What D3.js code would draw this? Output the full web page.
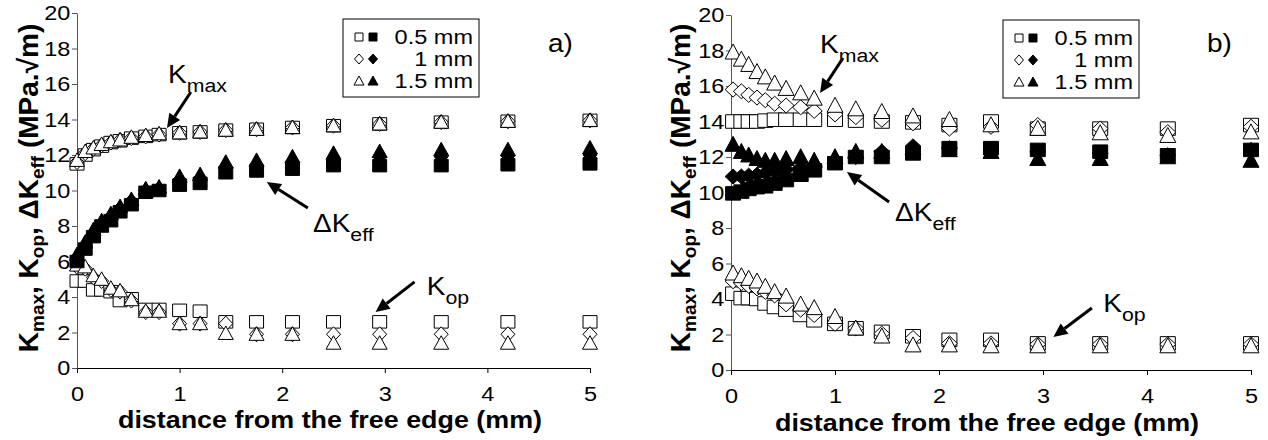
<!DOCTYPE html>
<html>
<head>
<meta charset="utf-8">
<script src="https://cdn.jsdelivr.net/npm/d3@7"></script>
<style>
  body { margin: 0; background: #fff; }
  svg { font-family: "Liberation Sans", Arial, sans-serif; }
</style>
</head>
<body>
<svg width="1268" height="440"></svg>
<script>
// distance from the free edge (mm)
const xsA = [0, 0.08, 0.16, 0.24, 0.33, 0.42, 0.53, 0.67, 0.8, 1.0, 1.2, 1.45, 1.75, 2.1, 2.5, 2.95, 3.55, 4.2, 5.0];
const xsB = [0.02, 0.1, 0.17, 0.25, 0.33, 0.42, 0.53, 0.67, 0.8, 1.0, 1.2, 1.45, 1.75, 2.1, 2.5, 2.95, 3.55, 4.2, 5.0];

const ticksX = [0, 1, 2, 3, 4, 5];
const ticksY = [0, 2, 4, 6, 8, 10, 12, 14, 16, 18, 20];
const legendLabels = ["0.5 mm", "1 mm", "1.5 mm"];

// panel a)
const kmaxA05 = [11.5, 12.0, 12.3, 12.5, 12.7, 12.8, 12.95, 13.05, 13.15, 13.25, 13.3, 13.4, 13.45, 13.55, 13.65, 13.75, 13.85, 13.9, 13.95];
const kmaxA1  = [11.6, 12.1, 12.35, 12.55, 12.7, 12.85, 12.95, 13.05, 13.15, 13.25, 13.3, 13.4, 13.45, 13.55, 13.65, 13.75, 13.85, 13.9, 13.95];
const kmaxA15 = [11.7, 12.2, 12.4, 12.6, 12.75, 12.85, 13.0, 13.1, 13.2, 13.25, 13.3, 13.4, 13.45, 13.55, 13.65, 13.75, 13.85, 13.9, 13.95];
const dkA05 = [6.0, 6.7, 7.4, 8.0, 8.3, 8.8, 9.2, 9.9, 10.0, 10.3, 10.4, 11.0, 11.1, 11.2, 11.4, 11.4, 11.4, 11.45, 11.5];
const dkA1  = [6.2, 6.9, 7.6, 8.1, 8.5, 9.0, 9.4, 10.0, 10.1, 10.6, 10.7, 11.3, 11.4, 11.6, 11.8, 11.9, 11.9, 11.95, 12.0];
const dkA15 = [6.4, 7.1, 7.8, 8.3, 8.7, 9.1, 9.5, 10.1, 10.2, 10.8, 10.9, 11.6, 11.7, 11.9, 12.1, 12.2, 12.3, 12.3, 12.4];
const kopA05 = [4.9, 4.9, 4.4, 4.4, 4.3, 3.8, 3.9, 3.3, 3.3, 3.25, 3.2, 2.6, 2.6, 2.6, 2.6, 2.6, 2.6, 2.6, 2.6];
const kopA1  = [5.7, 5.6, 5.1, 4.9, 4.4, 4.3, 3.8, 3.15, 3.15, 2.5, 2.5, 2.5, 1.9, 1.9, 1.9, 1.9, 1.9, 1.9, 1.9];
const kopA15 = [5.8, 5.7, 5.2, 5.0, 4.5, 4.35, 3.85, 3.2, 3.2, 2.5, 2.5, 1.95, 1.9, 1.9, 1.4, 1.4, 1.4, 1.4, 1.4];

// panel b)
const kmaxB05 = [14.0, 14.0, 14.0, 14.0, 14.05, 14.1, 14.1, 14.1, 14.1, 14.1, 14.05, 14.0, 13.95, 13.8, 14.0, 13.6, 13.6, 13.6, 13.8];
const kmaxB1  = [15.8, 15.7, 15.5, 15.35, 15.2, 15.0, 14.9, 14.8, 14.6, 14.4, 14.25, 14.1, 13.9, 13.6, 13.7, 13.8, 13.6, 13.4, 13.7];
const kmaxB15 = [17.9, 17.5, 17.2, 16.8, 16.5, 16.15, 15.85, 15.6, 15.3, 14.9, 14.7, 14.55, 14.3, 14.1, 13.8, 13.6, 13.35, 13.2, 13.4];
const dkB05 = [9.95, 10.05, 10.2, 10.3, 10.35, 10.5, 10.7, 11.0, 11.25, 11.65, 12.0, 12.0, 12.2, 12.5, 12.5, 12.4, 12.3, 12.1, 12.4];
const dkB1  = [10.9, 10.9, 10.95, 11.0, 11.1, 11.2, 11.3, 11.4, 11.5, 11.8, 12.0, 12.3, 12.6, 12.5, 12.4, 12.3, 12.2, 12.1, 12.4];
const dkB15 = [12.7, 12.3, 12.1, 11.9, 11.8, 11.8, 11.9, 12.0, 11.8, 12.0, 12.3, 12.3, 12.5, 12.4, 12.3, 11.9, 11.9, 12.0, 11.8];
const kopB05 = [4.3, 4.05, 4.05, 4.0, 3.75, 3.55, 3.4, 3.1, 2.8, 2.6, 2.35, 2.15, 1.9, 1.7, 1.7, 1.5, 1.5, 1.5, 1.5];
const kopB1  = [5.0, 4.9, 4.75, 4.6, 4.4, 4.2, 3.7, 3.4, 3.1, 2.6, 2.35, 2.05, 1.8, 1.5, 1.5, 1.45, 1.45, 1.45, 1.45];
const kopB15 = [5.45, 5.3, 5.15, 5.0, 4.7, 4.4, 4.15, 3.7, 3.5, 3.0, 2.35, 1.9, 1.4, 1.4, 1.35, 1.35, 1.35, 1.35, 1.35];

// annotations: label position and arrow (from -> to) in data units
const notesA = [
  {k: "K", sub: "max", at: [0.887, 16.06], from: [1.11, 15.55], to: [0.877, 13.52]},
  {k: "\u0394K", sub: "eff", at: [2.30, 7.66], from: [2.25, 9.01], to: [1.85, 10.48]},
  {k: "K", sub: "op", at: [3.41, 4.11], from: [3.29, 4.85], to: [2.91, 3.15]}
];
const notesB = [
  {k: "K", sub: "max", at: [0.856, 17.86], from: [1.077, 17.58], to: [0.856, 15.6]},
  {k: "\u0394K", sub: "eff", at: [1.577, 8.39], from: [1.52, 9.46], to: [1.115, 11.15]},
  {k: "K", sub: "op", at: [3.58, 3.27], from: [3.47, 3.49], to: [3.10, 1.86]}
];

const SX = 1.12; // the original figure is slightly stretched horizontally
const svg = d3.select("svg");

function marker(shape, w, h) {
  if (shape == "square") return `M${-w/2},${-h/2}h${w}v${h}h${-w}Z`;
  if (shape == "diamond") return `M0,${-h/2}L${w/2},0L0,${h/2}L${-w/2},0Z`;
  return `M0,${-h*0.55}L${w/2},${h*0.45}L${-w/2},${h*0.45}Z`;
}

function drawPanel(cfg) {
  const g = svg.append("g");
  const scX = d3.scaleLinear().domain([0, 5]).range([cfg.left, cfg.right]);
  const scY = d3.scaleLinear().domain([0, 20]).range([cfg.bottom, cfg.top]);

  // axes
  const ax = g.append("g")
    .attr("transform", `translate(0,${cfg.bottom})`)
    .call(d3.axisBottom(scX).tickValues(ticksX).tickFormat(d3.format("d"))
      .tickSize(5).tickSizeOuter(0).tickPadding(13));
  const ay = g.append("g")
    .attr("transform", `translate(${cfg.left},0)`)
    .call(d3.axisLeft(scY).tickValues(ticksY).tickFormat(d3.format("d"))
      .tickSize(5).tickSizeOuter(0).tickPadding(1));
  [ax, ay].forEach(a => {
    a.attr("font-family", null).attr("font-size", 21);
    a.selectAll("text").attr("fill", "#000").attr("transform", `scale(${SX},1)`);
  });
  ax.selectAll("path, line").attr("stroke", "#000");
  ay.selectAll("path, line").attr("stroke", "#555");

  // markers
  cfg.series.forEach(s => {
    g.append("g").selectAll("path")
      .data(cfg.xs.map((d, i) => [d, s.vals[i]]))
      .join("path")
      .attr("transform", d => `translate(${scX(d[0])},${scY(d[1])})`)
      .attr("d", marker(s.shape, cfg.size[s.shape][0], cfg.size[s.shape][1]))
      .attr("fill", s.filled ? "#000" : "#fff")
      .attr("stroke", "#000")
      .attr("stroke-width", 1);
  });

  // annotations with arrows
  cfg.notes.forEach(n => {
    const x1 = scX(n.from[0]), y1 = scY(n.from[1]);
    const x2 = scX(n.to[0]), y2 = scY(n.to[1]);
    const ang = Math.atan2(y2 - y1, x2 - x1);
    const L = 14, W = 6.5;
    const bx = x2 - L * Math.cos(ang), by = y2 - L * Math.sin(ang);
    g.append("line")
      .attr("x1", x1).attr("y1", y1).attr("x2", bx).attr("y2", by)
      .attr("stroke", "#000").attr("stroke-width", 3);
    g.append("path")
      .attr("d", `M${x2},${y2}L${bx + W * Math.sin(ang)},${by - W * Math.cos(ang)}L${bx - W * Math.sin(ang)},${by + W * Math.cos(ang)}Z`)
      .attr("fill", "#000");
    const t = g.append("text")
      .attr("transform", `translate(${scX(n.at[0])},${scY(n.at[1])}) scale(${SX},1)`)
      .attr("font-size", 25);
    t.append("tspan").text(n.k);
    t.append("tspan").attr("font-size", 19).attr("dy", 9).text(n.sub);
  });

  // axis titles
  g.append("text")
    .attr("transform", `translate(${cfg.titleX},${cfg.xTitleY}) scale(${SX},1)`)
    .attr("text-anchor", "middle")
    .attr("font-weight", "bold")
    .attr("font-size", 24)
    .text("distance from the free edge (mm)");

  const yt = g.append("text")
    .attr("transform", `translate(${cfg.yTitleX},188) rotate(-90)`)
    .attr("text-anchor", "middle")
    .attr("font-weight", "bold")
    .attr("font-size", 28);
  yt.append("tspan").text("K");
  yt.append("tspan").attr("font-size", 19).attr("dy", 6).text("max");
  yt.append("tspan").attr("dy", -6).text(", K");
  yt.append("tspan").attr("font-size", 19).attr("dy", 6).text("op");
  yt.append("tspan").attr("dy", -6).text(", \u0394K");
  yt.append("tspan").attr("font-size", 19).attr("dy", 6).text("eff");
  yt.append("tspan").attr("dy", -6).text(" (MPa.\u221Am)");

  // legend
  const lg = g.append("g").attr("transform", `translate(${cfg.legend[0]},${cfg.legend[1]})`);
  lg.append("rect").attr("x", 0).attr("y", 0).attr("width", 136).attr("height", 78)
    .attr("fill", "#fff").attr("stroke", "#000");
  const shapes = ["square", "diamond", "triangle"];
  const lsize = {square: [8, 8], diamond: [9, 10], triangle: [10, 9]};
  legendLabels.forEach((lab, i) => {
    const cy = 18 + i * 22;
    lg.append("path").attr("transform", `translate(16,${cy})`)
      .attr("d", marker(shapes[i], lsize[shapes[i]][0], lsize[shapes[i]][1]))
      .attr("fill", "#fff").attr("stroke", "#000");
    lg.append("path").attr("transform", `translate(30,${cy})`)
      .attr("d", marker(shapes[i], lsize[shapes[i]][0], lsize[shapes[i]][1]))
      .attr("fill", "#000").attr("stroke", "#000");
    lg.append("text").attr("transform", `translate(130,${cy + 7}) scale(${SX},1)`)
      .attr("text-anchor", "end").attr("font-size", 21).text(lab);
  });

  g.append("text")
    .attr("transform", `translate(${cfg.tag[0]},${cfg.tag[1]}) scale(${SX},1)`)
    .attr("font-size", 25).text(cfg.tagText);
}

drawPanel({
  left: 77, right: 590, bottom: 368, top: 13,
  xs: xsA,
  size: {square: [14, 12.5], diamond: [14, 15], triangle: [15, 13.5]},
  series: [
    {vals: kopA05, shape: "square", filled: false},
    {vals: kmaxA05, shape: "square", filled: false},
    {vals: kopA1, shape: "diamond", filled: false},
    {vals: kmaxA1, shape: "diamond", filled: false},
    {vals: kopA15, shape: "triangle", filled: false},
    {vals: kmaxA15, shape: "triangle", filled: false},
    {vals: dkA15, shape: "triangle", filled: true},
    {vals: dkA1, shape: "diamond", filled: true},
    {vals: dkA05, shape: "square", filled: true}
  ],
  notes: notesA,
  titleX: 330, xTitleY: 428, yTitleX: 38,
  legend: [343, 19], tag: [548, 52], tagText: "a)"
});

drawPanel({
  left: 731, right: 1251, bottom: 370, top: 15,
  xs: xsB,
  size: {square: [15, 13.5], diamond: [16, 15], triangle: [16, 15]},
  series: [
    {vals: kopB05, shape: "square", filled: false},
    {vals: kmaxB05, shape: "square", filled: false},
    {vals: kopB1, shape: "diamond", filled: false},
    {vals: kmaxB1, shape: "diamond", filled: false},
    {vals: kopB15, shape: "triangle", filled: false},
    {vals: kmaxB15, shape: "triangle", filled: false},
    {vals: dkB15, shape: "triangle", filled: true},
    {vals: dkB1, shape: "diamond", filled: true},
    {vals: dkB05, shape: "square", filled: true}
  ],
  notes: notesB,
  titleX: 987, xTitleY: 431, yTitleX: 690,
  legend: [1003, 20], tag: [1207, 52], tagText: "b)"
});
</script>
</body>
</html>
